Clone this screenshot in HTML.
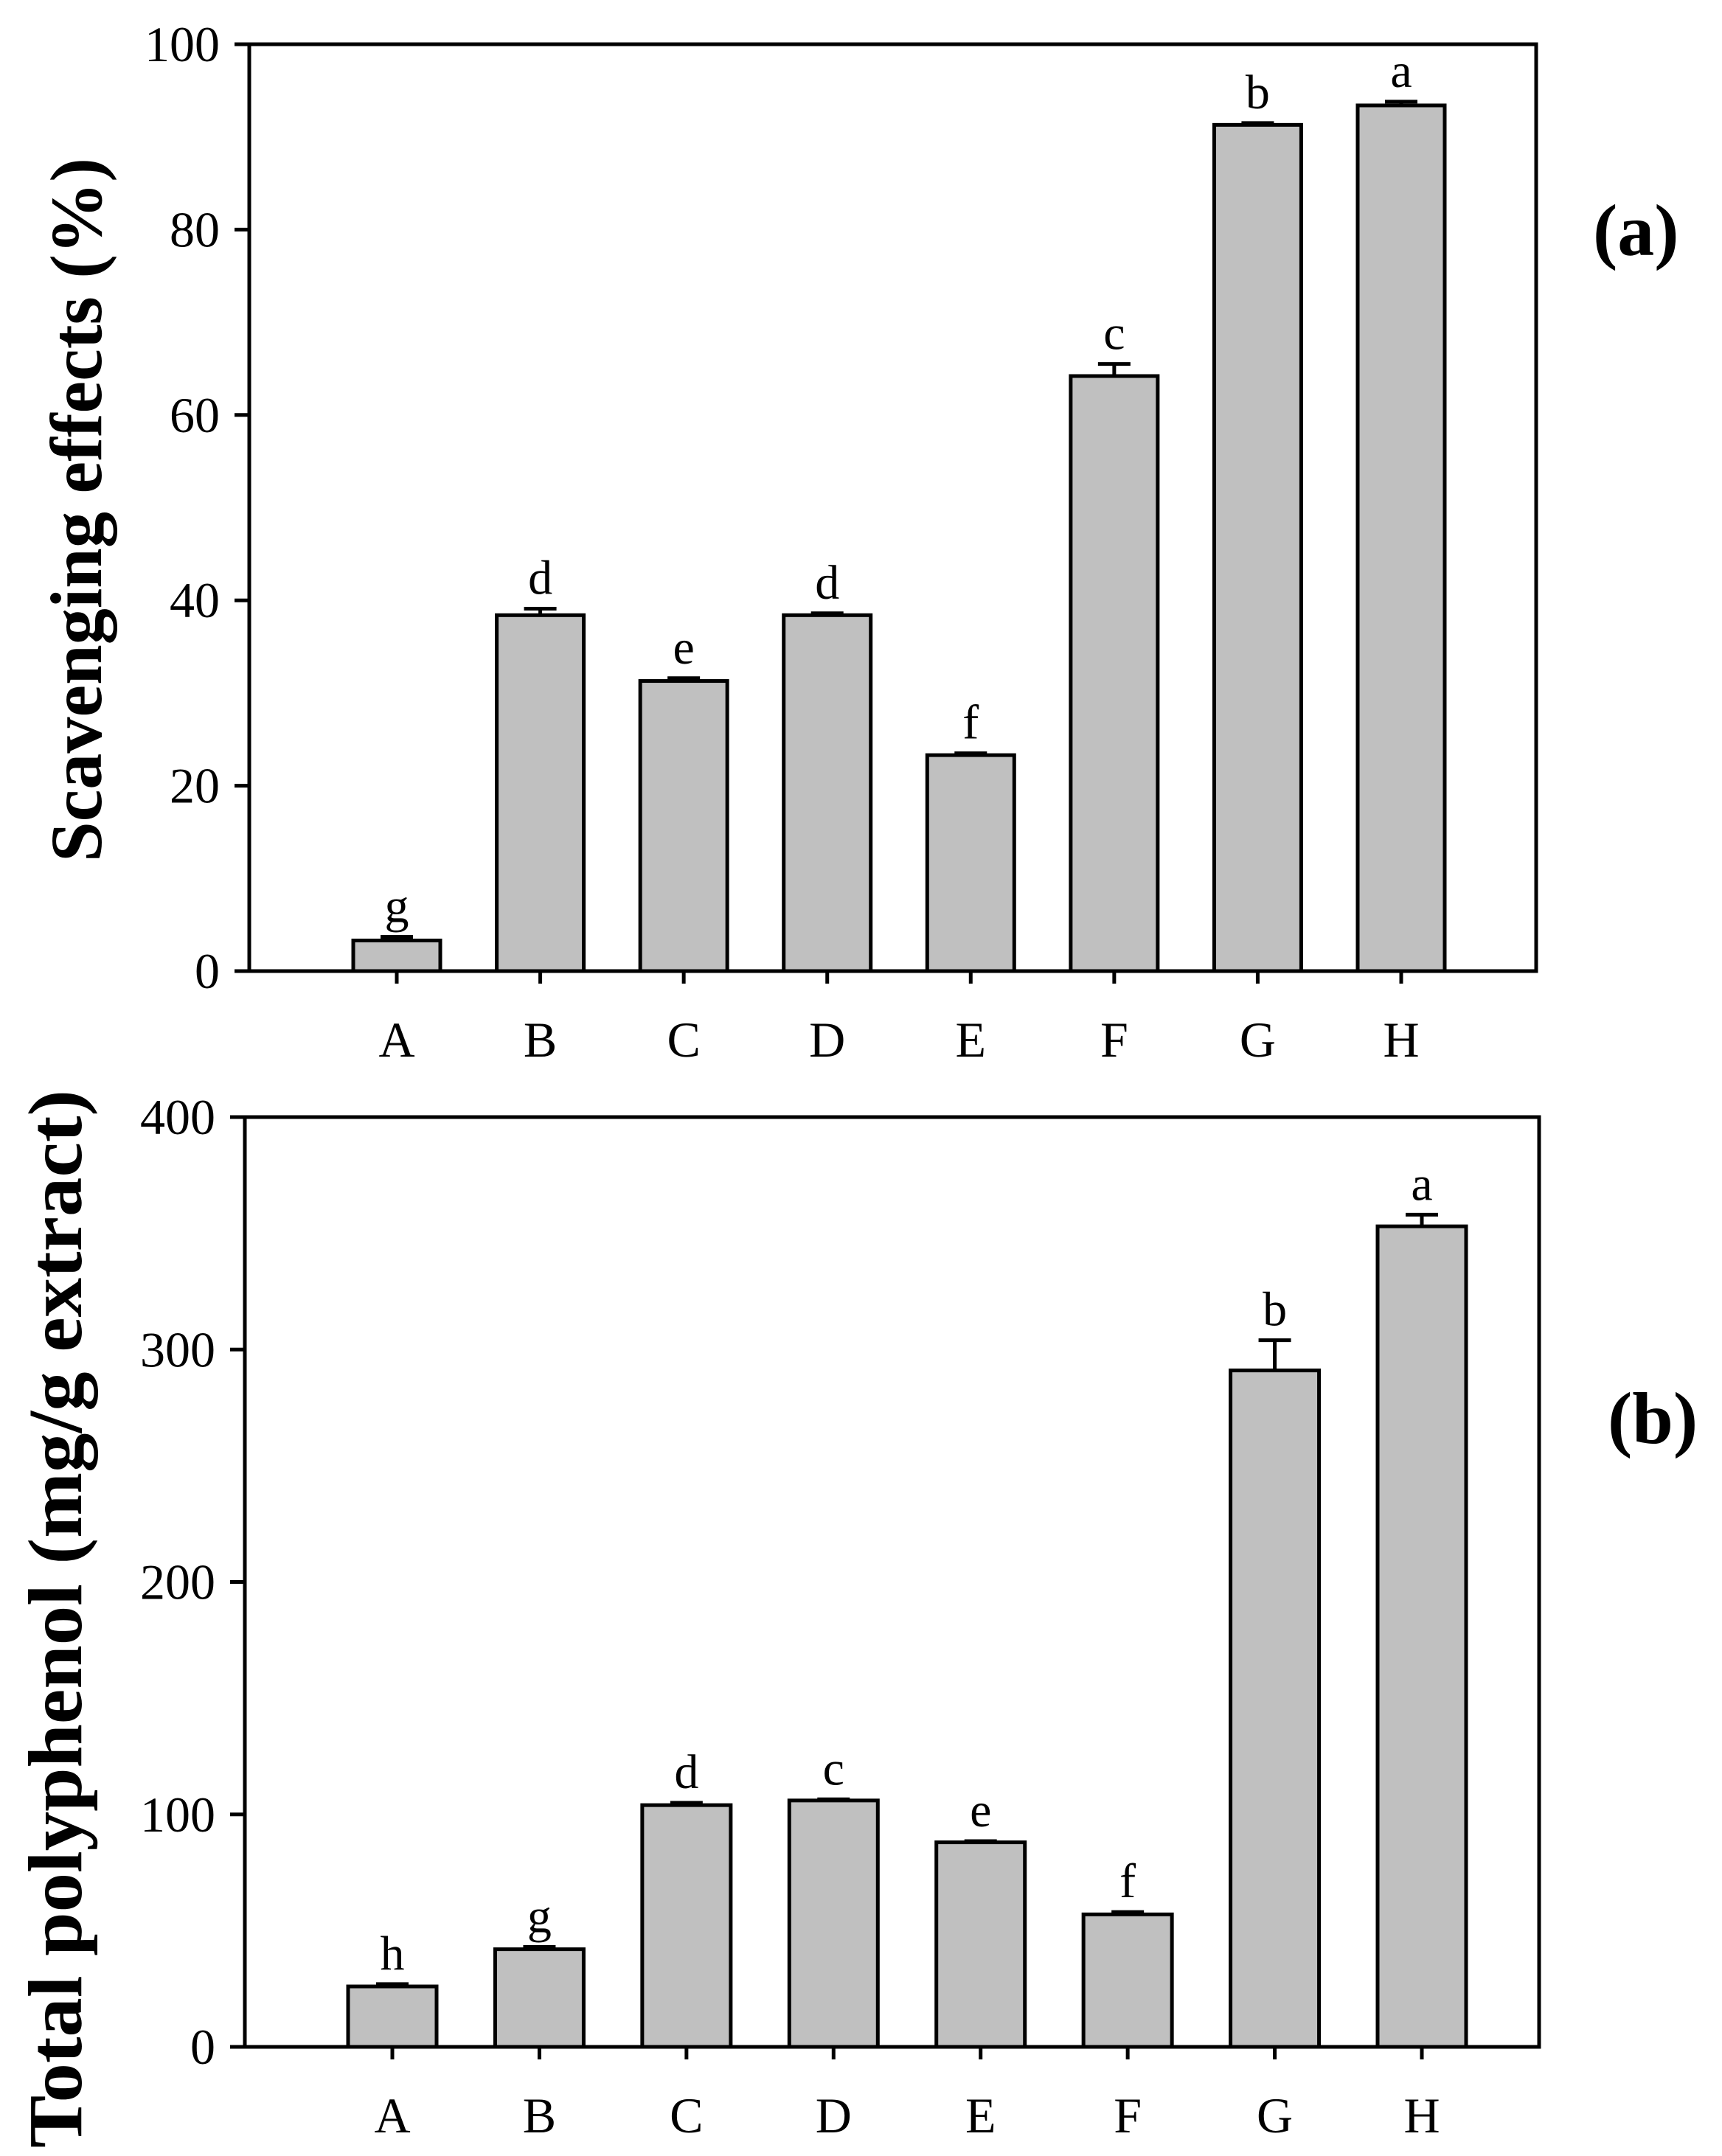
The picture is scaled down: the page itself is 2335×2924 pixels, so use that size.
<!DOCTYPE html>
<html><head><meta charset="utf-8"><style>
html,body{margin:0;padding:0;background:#fff;}
svg{display:block;font-family:"Liberation Serif",serif;}
</style></head><body>
<svg id="fig" width="2335" height="2924" viewBox="0 0 2335 2924" xmlns="http://www.w3.org/2000/svg"></svg>
<script>
const categories = ["A","B","C","D","E","F","G","H"];
const scavValues = [3.3, 38.4, 31.3, 38.4, 23.3, 64.2, 91.3, 93.4];
const scavErrors = [0.4, 0.7, 0.3, 0.2, 0.2, 1.3, 0.2, 0.4];
const scavLetters = ["g","d","e","d","f","c","b","a"];
const scavTicks = [0, 20, 40, 60, 80, 100];
const polyValues = [26, 42, 104, 106, 88, 57, 291, 353];
const polyErrors = [1, 1, 1, 0.5, 0.5, 1, 13, 5];
const polyLetters = ["h","g","d","c","e","f","b","a"];
const polyTicks = [0, 100, 200, 300, 400];

const NS = "http://www.w3.org/2000/svg";
const svg = document.getElementById("fig");
function mk(tag, attrs, parent, text) {
  const e = document.createElementNS(NS, tag);
  for (const k in attrs) e.setAttribute(k, attrs[k]);
  if (text !== undefined) e.textContent = text;
  (parent || svg).appendChild(e);
  return e;
}

function panel(cfg) {
  const g = mk("g", {});
  
  
  const yS = v => cfg.bottom - (v - cfg.ymin) / (cfg.ymax - cfg.ymin) * (cfg.bottom - cfg.top);
  const xS = i => cfg.c0 + i * (cfg.c7 - cfg.c0) / 7;
  const sw = cfg.sw;
  cfg.values.forEach((v, i) => {
    const x = xS(i), yt = yS(v), ye = yS(v + cfg.errors[i]);
    const eb = mk("line", {x1: x, x2: x, y1: yt, y2: ye, stroke: "#000", "stroke-width": sw}, g);
    
    
    const cap = mk("line", {x1: x - 22, x2: x + 22, y1: ye, y2: ye, stroke: "#000", "stroke-width": sw}, g);
    
    
    const r = mk("rect", {x: x - cfg.bw / 2, y: yt, width: cfg.bw, height: cfg.bottom - yt, fill: "#c0c0c0", stroke: "#000", "stroke-width": sw}, g);
    
    
    const lt = mk("text", {x: x, y: ye - 20, "font-size": 66, "text-anchor": "middle"}, g, cfg.letters[i]);
    
    
    const tk = mk("line", {x1: x, x2: x, y1: cfg.bottom, y2: cfg.bottom + 17, stroke: "#000", "stroke-width": sw}, g);
    
    
    const xl = mk("text", {x: x, y: cfg.bottom + 116, "font-size": 68, "text-anchor": "middle"}, g, categories[i]);
    
    
  });
  cfg.ticks.forEach(t => {
    const y = yS(t);
    const tl = mk("line", {x1: cfg.left - 20, x2: cfg.left, y1: y, y2: y, stroke: "#000", "stroke-width": sw}, g);
    
    
    const lb = mk("text", {x: cfg.left - 40, y: y + 23, "font-size": 68, "text-anchor": "end"}, g, String(t));
    
    
  });
  const fr = mk("rect", {x: cfg.left, y: cfg.top, width: cfg.right - cfg.left, height: cfg.bottom - cfg.top, fill: "none", stroke: "#000", "stroke-width": sw}, g);
  
  
  const ty = mk("text", {x: 0, y: 0, "font-size": cfg.tfs, "font-weight": "bold", "text-anchor": "middle",
    textLength: cfg.tlen, lengthAdjust: "spacingAndGlyphs",
    transform: `translate(${cfg.tx},${(cfg.top + cfg.bottom) / 2 + cfg.tdy}) rotate(-90)`}, g, cfg.title);
  
  
  const pl = mk("text", {x: cfg.px, y: cfg.py, "font-size": 100, "font-weight": "bold"}, g, cfg.plabel);
  
  
}

panel({name: "panel-a-scavenging", left: 338, right: 2083, top: 60, bottom: 1317, ymin: 0, ymax: 100,
  c0: 538, c7: 1900, bw: 118, sw: 5, values: scavValues, errors: scavErrors, letters: scavLetters, ticks: scavTicks,
  title: "Scavenging effects (%)", tfs: 100, tlen: 955, tx: 137, tdy: 3, plabel: "(a)", px: 2160, py: 346});
panel({name: "panel-b-polyphenol", left: 332, right: 2087, top: 1515, bottom: 2776, ymin: 0, ymax: 400,
  c0: 532, c7: 1928, bw: 120, sw: 5, values: polyValues, errors: polyErrors, letters: polyLetters, ticks: polyTicks,
  title: "Total polyphenol (mg/g extract)", tfs: 104, tlen: 1435, tx: 110, tdy: 50, plabel: "(b)", px: 2180, py: 1957});
</script>
</body></html>
